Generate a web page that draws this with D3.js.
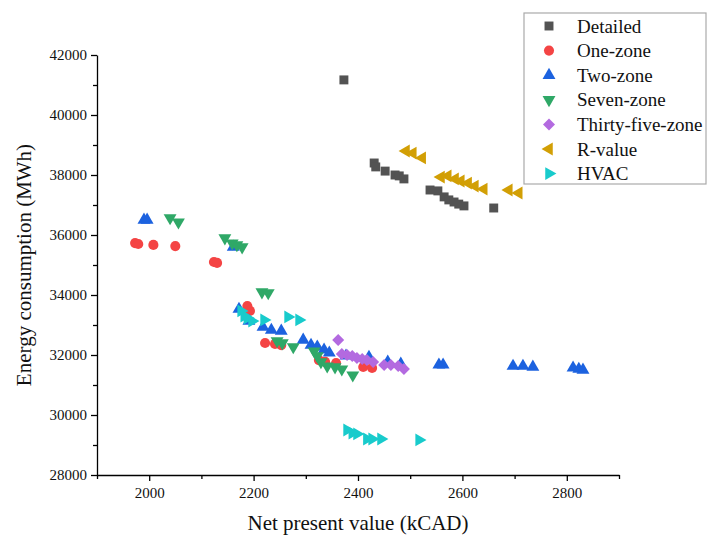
<!DOCTYPE html>
<html>
<head>
<meta charset="utf-8">
<script src="https://cdn.jsdelivr.net/npm/d3@7"></script>
<style>
  body { margin: 0; background: #fff; }
  svg { display: block; font-family: "Liberation Serif", "Times New Roman", serif; }
  svg text { font-family: "Liberation Serif", "Times New Roman", serif; }
</style>
</head>
<body>
<svg width="708" height="541"></svg>
<script>
// data: [net present value (kCAD), energy (MWh)]
const detailed = [
  [2373, 41170], [2431, 38400], [2434, 38270], [2452, 38130], [2471, 38000],
  [2479, 37970], [2488, 37870], [2538, 37500], [2553, 37470], [2565, 37270],
  [2574, 37170], [2584, 37100], [2593, 37030], [2603, 36970], [2660, 36900]
];
const oneZone = [
  [1973, 35730], [1979, 35700], [2008, 35670], [2050, 35630], [2124, 35100],
  [2130, 35070], [2188, 33630], [2193, 33470], [2222, 32400], [2241, 32370],
  [2253, 32330], [2325, 31830], [2337, 31770], [2358, 31730], [2410, 31600],
  [2427, 31570]
];
const twoZone = [
  [1990, 36500], [1996, 36500], [2161, 35600], [2172, 33530], [2191, 33130],
  [2218, 32930], [2234, 32830], [2253, 32800], [2295, 32500], [2310, 32330],
  [2322, 32270], [2335, 32170], [2345, 32070], [2377, 31970], [2421, 31930],
  [2457, 31770], [2482, 31700], [2555, 31670], [2563, 31670], [2697, 31630],
  [2716, 31630], [2735, 31600], [2812, 31570], [2823, 31530], [2831, 31500]
];
const sevenZone = [
  [2040, 36570], [2056, 36430], [2145, 35900], [2159, 35730], [2168, 35670],
  [2178, 35600], [2216, 34100], [2228, 34070], [2245, 32470], [2255, 32400],
  [2276, 32270], [2316, 32130], [2322, 31970], [2329, 31770], [2341, 31630],
  [2356, 31600], [2369, 31530], [2390, 31330]
];
const thirtyFiveZone = [
  [2362, 32500], [2369, 32030], [2379, 32000], [2389, 31970], [2398, 31900],
  [2408, 31870], [2417, 31830], [2429, 31770], [2450, 31670], [2463, 31670],
  [2477, 31630], [2488, 31530]
];
const rValue = [
  [2492, 38800], [2505, 38730], [2523, 38570], [2559, 37930], [2572, 37970],
  [2586, 37870], [2597, 37800], [2611, 37730], [2624, 37630], [2641, 37530],
  [2689, 37500], [2708, 37400]
];
const hvac = [
  [2176, 33470], [2182, 33300], [2188, 33230], [2197, 33130], [2220, 33170],
  [2266, 33270], [2287, 33170], [2379, 29500], [2389, 29400], [2398, 29370],
  [2417, 29200], [2427, 29200], [2444, 29200], [2517, 29170]
];

const seriesNames = ["Detailed", "One-zone", "Two-zone", "Seven-zone",
  "Thirty-five-zone", "R-value", "HVAC"];
const seriesData = [detailed, oneZone, twoZone, sevenZone, thirtyFiveZone, rValue, hvac];
const colors = ["#535353", "#f44444", "#1c62df", "#2fa867", "#b36ae0", "#d29f05", "#18cbcc"];

const xTicks = [2000, 2200, 2400, 2600, 2800];
const yTicks = [28000, 30000, 32000, 34000, 36000, 38000, 40000, 42000];

// marker shapes: symbol type, rotation, size
const shapes = [
  { type: d3.symbolSquare, rotate: 0, size: 80 },
  { type: d3.symbolCircle, rotate: 0, size: 80 },
  { type: d3.symbolTriangle, rotate: 0, size: 72 },
  { type: d3.symbolTriangle, rotate: 180, size: 72 },
  { type: d3.symbolSquare, rotate: 45, size: 72 },
  { type: d3.symbolTriangle, rotate: -90, size: 72 },
  { type: d3.symbolTriangle, rotate: 90, size: 72 }
];

const svg = d3.select("svg");
const plot = { left: 97, right: 619, top: 55, bottom: 475 };

const x = d3.scaleLinear().domain([1900, 2900]).range([plot.left, plot.right]);
const y = d3.scaleLinear().domain([28000, 42000]).range([plot.bottom, plot.top]);

// axes
svg.append("g")
  .attr("transform", `translate(0,${plot.bottom})`)
  .call(d3.axisBottom(x).tickValues(xTicks).tickSize(6).tickSizeOuter(0).tickPadding(6)
    .tickFormat(d3.format("d")));
svg.append("g")
  .attr("transform", `translate(0,${plot.bottom})`)
  .call(d3.axisBottom(x).tickValues(d3.range(1900, 2901, 100).filter(v => !xTicks.includes(v)))
    .tickSize(4).tickSizeOuter(0).tickFormat(""))
  .select(".domain").remove();

svg.append("g")
  .attr("transform", `translate(${plot.left},0)`)
  .call(d3.axisLeft(y).tickValues(yTicks).tickSize(6).tickSizeOuter(0).tickPadding(4)
    .tickFormat(d3.format("d")));
svg.append("g")
  .attr("transform", `translate(${plot.left},0)`)
  .call(d3.axisLeft(y).tickValues(d3.range(29000, 42000, 2000)).tickSize(4).tickFormat(""))
  .select(".domain").remove();

svg.selectAll("g").attr("font-family", null);
svg.selectAll(".domain, .tick line").attr("stroke", "#000").attr("stroke-width", 1.3);
svg.selectAll(".tick text")
  .attr("fill", "#111")
  .style("font-size", "15px")
  .style("font-family", "'Liberation Serif', serif");

// axis titles
svg.append("text")
  .attr("x", (plot.left + plot.right) / 2)
  .attr("y", 530)
  .attr("text-anchor", "middle")
  .attr("font-size", 21)
  .attr("fill", "#111")
  .text("Net present value (kCAD)");

svg.append("text")
  .attr("transform", `translate(31,${(plot.top + plot.bottom) / 2}) rotate(-90)`)
  .attr("text-anchor", "middle")
  .attr("font-size", 21)
  .attr("fill", "#111")
  .text("Energy consumption (MWh)");

const symbolPath = (s) => d3.symbol().type(s.type).size(s.size)();

// points
seriesData.forEach((data, i) => {
  const s = shapes[i];
  svg.append("g")
    .selectAll("path")
    .data(data)
    .join("path")
    .attr("d", symbolPath(s))
    .attr("transform", d => `translate(${x(d[0])},${y(d[1])}) rotate(${s.rotate})`)
    .attr("fill", colors[i]);
});

// legend
const legend = svg.append("g").attr("transform", "translate(524,13)");
legend.append("rect")
  .attr("width", 182).attr("height", 171)
  .attr("fill", "#fff").attr("stroke", "#aaa").attr("stroke-width", 1.2);

seriesNames.forEach((name, i) => {
  const s = shapes[i];
  const row = legend.append("g").attr("transform", `translate(0,${13 + i * 24.6})`);
  row.append("path")
    .attr("d", symbolPath(s))
    .attr("transform", `translate(25,0) rotate(${s.rotate})`)
    .attr("fill", colors[i]);
  row.append("text")
    .attr("x", 53).attr("y", 6.5)
    .attr("font-size", 19)
    .attr("fill", "#111")
    .text(name);
});
</script>
</body>
</html>
